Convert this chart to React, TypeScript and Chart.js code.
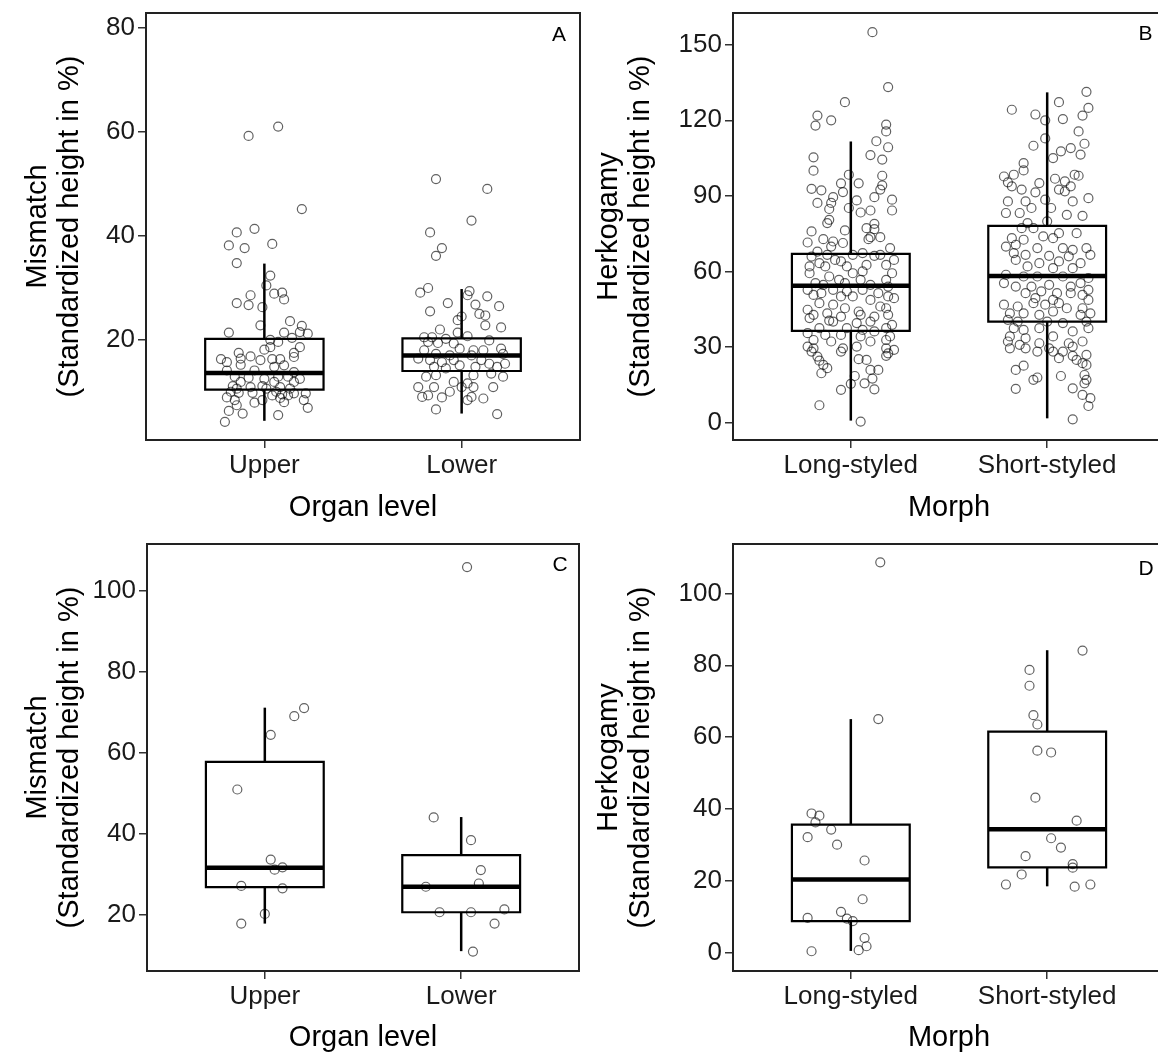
import React, { useEffect, useRef } from 'react';
import { Chart, registerables } from 'chart.js';

Chart.register(...registerables);

// ---------- categories & tick labels ----------
const organCategories = ['Upper', 'Lower'];
const morphCategories = ['Long-styled', 'Short-styled'];
const ticksA = [20, 40, 60, 80];
const ticksB = [0, 30, 60, 90, 120, 150];
const ticksC = [20, 40, 60, 80, 100];
const ticksD = [0, 20, 40, 60, 80, 100];
const rangeA = [0.6, 82.9];
const rangeB = [-6.9, 162.6];
const rangeC = [6.1, 111.5];
const rangeD = [-5.2, 113.8];

// ---------- box statistics: [lower whisker, Q1, median, Q3, upper whisker] ----------
const boxAUpper = [4.3, 10.3, 13.5, 20.1, 34.6];
const boxALower = [5.7, 13.9, 16.9, 20.2, 29.7];
const boxBLong = [0.8, 36.4, 54.3, 67.0, 111.6];
const boxBShort = [1.7, 40.1, 58.2, 78.1, 131.1];
const boxCUpper = [17.8, 26.8, 31.6, 57.7, 71.1];
const boxCLower = [11.0, 20.6, 26.9, 34.7, 44.1];
const boxDLong = [0.4, 8.7, 20.3, 35.6, 65.0];
const boxDShort = [18.4, 23.7, 34.3, 61.5, 84.2];

// ---------- jittered observations: [jitter, value] ----------
const ptsAUpper = [
  [-0.08, 59.2], [0.07, 61.0], [0.19, 45.1], [-0.14, 40.6], [-0.05, 41.3], [-0.18, 38.1], [-0.10, 37.6], [0.04, 38.4],
  [-0.14, 34.7], [0.03, 32.3], [0.01, 30.4], [0.05, 28.8], [0.09, 29.0], [-0.07, 28.5], [-0.14, 27.0], [-0.08, 26.6],
  [0.10, 27.7], [-0.01, 26.2], [-0.02, 22.7], [0.13, 23.5], [0.19, 22.6], [-0.18, 21.3], [0.10, 21.3], [0.18, 21.4],
  [0.22, 21.1], [0.14, 20.3], [0.03, 19.9], [0.07, 19.5], [0.18, 18.5], [0.00, 18.0], [0.03, 18.5], [-0.13, 17.4],
  [-0.07, 16.7], [-0.22, 16.2], [-0.02, 16.0], [0.04, 16.2], [0.08, 16.2], [0.15, 17.4], [0.15, 16.6], [-0.19, 15.6],
  [-0.12, 15.1], [-0.12, 16.3], [-0.19, 14.0], [-0.05, 14.0], [0.05, 14.7], [0.10, 15.0], [0.15, 13.7], [-0.15, 12.8],
  [-0.08, 12.6], [0.00, 12.4], [0.07, 12.8], [0.12, 12.8], [0.18, 12.4], [-0.12, 11.8], [0.05, 11.8], [0.15, 11.8],
  [-0.16, 11.0], [-0.14, 10.5], [-0.07, 10.8], [-0.01, 11.0], [0.01, 10.5], [0.08, 10.8], [0.13, 10.5], [-0.17, 9.9],
  [-0.13, 9.7], [-0.06, 9.7], [0.04, 9.2], [0.09, 9.4], [0.15, 9.6], [-0.19, 8.8], [-0.15, 8.3], [0.08, 8.7],
  [0.10, 7.9], [0.21, 9.6], [0.20, 8.3], [-0.05, 7.8], [-0.14, 7.3], [0.22, 6.8], [-0.18, 6.2], [-0.11, 5.7],
  [0.07, 5.4], [-0.20, 4.1], [-0.01, 8.3], [0.06, 9.9], [0.12, 9.2],
];
const ptsALower = [
  [-0.13, 50.9], [0.13, 49.0], [0.05, 42.9], [-0.16, 40.6], [-0.10, 37.6], [-0.13, 36.1], [-0.17, 29.9], [-0.21, 29.0],
  [0.04, 29.3], [0.03, 28.5], [0.13, 28.3], [-0.07, 27.0], [0.07, 26.7], [0.19, 26.4], [-0.16, 25.4], [0.09, 24.9],
  [0.12, 24.6], [0.00, 24.4], [-0.02, 23.7], [0.12, 22.7], [0.20, 22.3], [-0.11, 21.9], [-0.02, 21.3], [-0.19, 20.4],
  [-0.15, 20.4], [-0.08, 20.1], [0.03, 20.6], [0.14, 19.8], [-0.17, 19.5], [-0.12, 19.3], [-0.04, 19.2], [-0.01, 18.2],
  [0.06, 17.9], [0.11, 17.9], [0.20, 18.2], [-0.19, 17.9], [-0.13, 17.2], [-0.06, 16.9], [0.05, 16.9], [0.21, 17.2],
  [-0.22, 16.3], [-0.16, 16.0], [-0.10, 15.6], [-0.04, 16.0], [0.10, 16.0], [0.14, 15.3], [0.22, 15.3], [-0.14, 14.7],
  [-0.08, 14.4], [-0.01, 15.0], [0.07, 14.7], [0.18, 14.7], [-0.18, 12.8], [-0.13, 13.1], [0.06, 13.1], [0.21, 12.8],
  [-0.04, 11.8], [0.03, 11.5], [-0.22, 10.8], [-0.14, 10.8], [0.00, 10.8], [0.06, 10.8], [0.16, 10.8], [-0.20, 8.9],
  [-0.17, 9.2], [-0.10, 8.8], [0.03, 8.3], [0.05, 8.9], [0.11, 8.6], [-0.13, 6.5], [0.18, 5.6], [-0.06, 9.9],
  [0.15, 13.4],
];
const ptsBLong = [
  [0.11, 155.0], [0.19, 133.2], [-0.03, 127.2], [-0.17, 121.9], [-0.18, 117.9], [-0.10, 120.0], [0.18, 118.3], [0.18, 115.6],
  [0.13, 111.7], [0.19, 109.3], [0.10, 106.2], [0.16, 104.4], [-0.19, 105.3], [-0.19, 100.0], [-0.01, 98.4], [0.16, 98.0],
  [-0.05, 95.0], [0.04, 95.0], [0.16, 94.2], [0.15, 92.5], [-0.20, 92.8], [-0.15, 92.2], [-0.04, 91.5], [0.12, 89.5],
  [0.21, 88.5], [-0.09, 89.5], [0.03, 88.2], [-0.17, 87.2], [-0.10, 87.2], [-0.01, 85.2], [0.21, 84.2], [0.10, 84.2],
  [-0.11, 84.8], [0.05, 83.4], [-0.11, 80.5], [-0.12, 79.2], [0.12, 78.9], [0.08, 77.2], [0.12, 76.8], [-0.03, 76.3],
  [-0.20, 75.9], [0.10, 73.6], [0.15, 73.6], [0.09, 72.8], [-0.22, 71.5], [-0.14, 72.8], [-0.09, 71.9], [-0.04, 71.3],
  [0.20, 69.3], [-0.10, 69.9], [-0.17, 67.9], [-0.20, 65.9], [-0.12, 66.6], [0.01, 66.6], [0.06, 67.3], [0.12, 66.2],
  [0.15, 66.6], [0.22, 64.6], [-0.08, 64.6], [-0.05, 64.0], [-0.16, 63.3], [-0.21, 62.0], [-0.13, 62.0], [-0.02, 62.0],
  [0.08, 62.6], [0.18, 62.6], [0.01, 59.3], [0.06, 60.0], [0.21, 59.3], [-0.21, 59.3], [-0.11, 58.0], [-0.06, 56.7],
  [0.05, 56.7], [0.18, 56.7], [-0.18, 55.4], [-0.14, 54.7], [-0.03, 55.4], [0.10, 54.7], [0.19, 54.0], [-0.22, 52.7],
  [-0.09, 52.7], [-0.02, 52.1], [0.06, 52.7], [0.14, 51.4], [-0.19, 50.7], [-0.15, 51.4], [-0.05, 50.1], [0.01, 50.1],
  [0.10, 48.7], [0.22, 49.4], [0.19, 50.1], [-0.16, 47.4], [-0.09, 46.8], [-0.03, 45.4], [0.04, 44.1], [0.15, 46.1],
  [0.18, 45.4], [-0.22, 44.8], [-0.19, 42.8], [-0.12, 43.4], [-0.05, 42.1], [0.05, 42.8], [0.12, 42.1], [0.19, 42.8],
  [-0.21, 41.5], [-0.11, 40.5], [-0.09, 40.1], [0.03, 39.5], [0.10, 40.1], [0.21, 38.8], [-0.16, 37.5], [-0.02, 37.5],
  [0.06, 36.8], [0.12, 36.2], [0.18, 37.5], [-0.22, 35.5], [-0.13, 34.8], [-0.05, 34.8], [0.05, 34.2], [0.20, 34.2],
  [-0.19, 32.8], [-0.10, 32.2], [0.10, 32.2], [0.18, 32.8], [-0.22, 30.2], [-0.19, 29.5], [-0.04, 29.5], [0.03, 30.2],
  [0.18, 29.5], [0.22, 28.9], [-0.20, 28.2], [-0.05, 28.2], [0.19, 27.5], [-0.17, 26.2], [0.04, 25.2], [-0.16, 24.6],
  [0.08, 24.9], [0.18, 26.5], [-0.14, 22.9], [-0.12, 21.6], [0.10, 20.9], [0.14, 20.9], [-0.15, 19.6], [0.02, 18.5],
  [0.11, 17.5], [0.07, 15.6], [0.00, 15.4], [-0.05, 13.0], [0.12, 13.2], [-0.16, 6.9], [0.05, 0.4],
];
const ptsBShort = [
  [-0.18, 124.2], [-0.06, 122.3], [0.06, 127.2], [-0.01, 120.0], [0.08, 120.5], [0.20, 131.3], [0.21, 124.9], [0.18, 121.9],
  [0.19, 110.7], [0.16, 115.6], [-0.07, 109.9], [-0.01, 112.8], [0.12, 109.0], [0.07, 107.7], [0.03, 105.0], [0.17, 106.4],
  [-0.12, 103.0], [-0.12, 100.1], [-0.22, 97.7], [-0.17, 98.4], [0.14, 98.4], [0.16, 98.0], [0.04, 96.8], [0.09, 95.8],
  [-0.18, 93.8], [-0.20, 95.4], [-0.04, 95.1], [0.12, 93.8], [-0.13, 92.5], [0.06, 92.5], [0.09, 91.8], [-0.06, 91.4],
  [0.21, 89.1], [-0.20, 87.8], [-0.11, 87.8], [-0.01, 88.5], [0.13, 87.8], [-0.08, 85.2], [0.02, 85.2], [-0.21, 83.2],
  [-0.14, 83.2], [0.10, 82.5], [0.18, 82.1], [-0.10, 79.2], [0.00, 79.9], [-0.13, 77.2], [-0.07, 77.2], [0.06, 75.2],
  [0.15, 75.2], [-0.18, 73.2], [-0.12, 72.6], [-0.02, 73.9], [0.03, 73.2], [-0.21, 69.9], [-0.16, 70.6], [-0.05, 69.3],
  [0.08, 69.3], [0.13, 68.6], [0.20, 69.3], [-0.17, 67.3], [-0.11, 66.6], [0.01, 66.2], [0.11, 66.0], [0.22, 66.6],
  [-0.16, 64.6], [-0.04, 63.3], [0.06, 64.0], [0.17, 63.3], [-0.10, 62.0], [0.03, 61.3], [0.13, 61.3], [-0.21, 58.7],
  [-0.12, 58.0], [-0.05, 58.0], [0.08, 58.0], [0.21, 57.4], [-0.22, 55.4], [-0.16, 54.0], [-0.08, 54.0], [0.01, 54.7],
  [0.12, 54.0], [0.17, 55.4], [0.21, 52.7], [-0.11, 51.4], [-0.03, 52.1], [0.05, 51.4], [0.12, 51.4], [0.18, 50.7],
  [-0.06, 49.4], [0.03, 48.7], [0.21, 48.7], [-0.07, 47.4], [-0.22, 46.8], [-0.15, 46.1], [-0.01, 46.8], [0.06, 47.4],
  [0.10, 45.4], [0.18, 45.4], [-0.19, 43.4], [-0.12, 43.4], [-0.04, 42.8], [0.03, 44.1], [0.17, 42.8], [0.22, 43.4],
  [-0.20, 40.8], [-0.15, 40.1], [0.00, 40.1], [0.08, 39.5], [0.20, 40.1], [-0.17, 37.5], [-0.12, 36.8], [-0.04, 37.5],
  [0.13, 36.2], [0.21, 37.5], [-0.19, 34.2], [-0.11, 33.5], [0.03, 34.2], [0.18, 32.2], [-0.20, 32.2], [-0.14, 30.9],
  [-0.04, 31.5], [0.11, 31.5], [-0.19, 29.5], [-0.11, 29.5], [0.01, 29.5], [0.13, 30.2], [-0.05, 28.2], [0.03, 28.2],
  [0.08, 28.2], [0.20, 26.9], [0.13, 26.5], [0.06, 25.6], [0.15, 24.9], [0.18, 23.6], [-0.12, 22.6], [-0.16, 20.9],
  [0.20, 22.9], [0.19, 18.9], [0.07, 18.5], [-0.05, 17.9], [-0.07, 17.0], [0.20, 17.0], [0.19, 15.6], [-0.16, 13.4],
  [0.13, 13.6], [0.18, 11.0], [0.22, 9.7], [0.21, 6.6], [0.13, 1.3],
];
const ptsCUpper = [
  [0.20, 71.0], [0.15, 69.0], [0.03, 64.4], [-0.14, 50.9], [0.03, 33.6], [0.05, 31.1], [0.09, 31.7], [-0.12, 27.1],
  [0.09, 26.5], [0.00, 20.2], [-0.12, 17.8],
];
const ptsCLower = [
  [0.03, 105.8], [-0.14, 44.0], [0.05, 38.4], [0.10, 31.0], [-0.18, 26.9], [0.09, 27.7], [-0.11, 20.6], [0.05, 20.6],
  [0.22, 21.3], [0.17, 17.8], [0.06, 10.9],
];
const ptsDLong = [
  [0.15, 108.7], [0.14, 65.0], [-0.20, 38.7], [-0.16, 38.1], [-0.18, 36.2], [-0.10, 34.2], [-0.22, 32.1], [-0.07, 30.0],
  [0.07, 25.6], [0.06, 14.8], [-0.22, 9.6], [-0.05, 11.3], [-0.02, 9.4], [0.01, 8.7], [0.07, 4.0], [0.08, 1.7],
  [0.04, 0.6], [-0.20, 0.3],
];
const ptsDShort = [
  [0.18, 84.1], [-0.09, 78.7], [-0.09, 74.3], [-0.07, 66.1], [-0.05, 63.5], [-0.05, 56.2], [0.02, 55.7], [-0.06, 43.1],
  [0.15, 36.7], [0.02, 31.8], [0.07, 29.2], [-0.11, 26.8], [0.13, 24.6], [0.13, 23.6], [-0.13, 21.7], [-0.21, 18.9],
  [0.14, 18.3], [0.22, 18.9],
];

const FONT = "'Liberation Sans', Arial, Helvetica, sans-serif";

type PanelSpec = {
  left: number; top: number; width: number; height: number;
  padTop: number; padRight: number; yAxisWidth: number; xAxisHeight: number; titlePad: number;
  range: number[]; ticks: number[]; categories: string[];
  boxes: number[][]; points: number[][][];
  yTitle: string[]; xTitle: string; label: string; labelDx: number; labelDy: number;
};

const panels: PanelSpec[] = [
  {
    left: 0, top: 0, width: 585, height: 525, padTop: 13, padRight: 5, yAxisWidth: 146, xAxisHeight: 85, titlePad: 22,
    range: rangeA, ticks: ticksA, categories: organCategories, boxes: [boxAUpper, boxALower], points: [ptsAUpper, ptsALower],
    yTitle: ['Mismatch', '(Standardized height in %)'], xTitle: 'Organ level', label: 'A', labelDx: 21, labelDy: 22,
  },
  {
    left: 585, top: 0, width: 595, height: 525, padTop: 13, padRight: 15, yAxisWidth: 148, xAxisHeight: 85, titlePad: 8,
    range: rangeB, ticks: ticksB, categories: morphCategories, boxes: [boxBLong, boxBShort], points: [ptsBLong, ptsBShort],
    yTitle: ['Herkogamy', '(Standardized height in %)'], xTitle: 'Morph', label: 'B', labelDx: 19.5, labelDy: 21.5,
  },
  {
    left: 0, top: 530, width: 585, height: 525, padTop: 14, padRight: 6, yAxisWidth: 147, xAxisHeight: 84, titlePad: 22,
    range: rangeC, ticks: ticksC, categories: organCategories, boxes: [boxCUpper, boxCLower], points: [ptsCUpper, ptsCLower],
    yTitle: ['Mismatch', '(Standardized height in %)'], xTitle: 'Organ level', label: 'C', labelDx: 19, labelDy: 21,
  },
  {
    left: 585, top: 530, width: 595, height: 525, padTop: 14, padRight: 15, yAxisWidth: 148, xAxisHeight: 84, titlePad: 8,
    range: rangeD, ticks: ticksD, categories: morphCategories, boxes: [boxDLong, boxDShort], points: [ptsDLong, ptsDShort],
    yTitle: ['Herkogamy', '(Standardized height in %)'], xTitle: 'Morph', label: 'D', labelDx: 19, labelDy: 25.5,
  },
];

const decorPlugin = {
  id: 'panelDecor',
  afterDatasetsDraw(chart: any, _args: any, opts: any) {
    const { ctx, chartArea: a } = chart;
    ctx.save();
    ctx.strokeStyle = '#222';
    ctx.lineWidth = 2;
    ctx.strokeRect(a.left, a.top, a.right - a.left, a.bottom - a.top);
    ctx.font = `21px ${FONT}`;
    ctx.fillStyle = '#000';
    ctx.textAlign = 'center';
    ctx.textBaseline = 'middle';
    ctx.fillText(opts.label, a.right - opts.labelDx, a.top + opts.labelDy);
    ctx.restore();
  },
};

function lineDs(data: { x: number; y: number }[], width: number, cap: string = 'butt') {
  return {
    type: 'line' as const,
    data,
    borderColor: '#000',
    borderWidth: width,
    borderCapStyle: cap,
    borderJoinStyle: 'miter',
    pointRadius: 0,
    pointHoverRadius: 0,
    fill: false,
    tension: 0,
    showLine: true,
    order: 2,
  };
}

function buildDatasets(p: PanelSpec) {
  const ds: any[] = [];
  const hw = 0.3;
  p.boxes.forEach((s, i) => {
    const xc = i + 1;
    const [lo, q1, med, q3, hi] = s;
    ds.push(lineDs([{ x: xc, y: q3 }, { x: xc, y: hi }], 2.5));
    ds.push(lineDs([{ x: xc, y: lo }, { x: xc, y: q1 }], 2.5));
    ds.push(lineDs([
      { x: xc - hw, y: q1 }, { x: xc + hw, y: q1 }, { x: xc + hw, y: q3 }, { x: xc - hw, y: q3 }, { x: xc - hw, y: q1 },
    ], 2.2, 'square'));
    ds.push(lineDs([{ x: xc - hw, y: med }, { x: xc + hw, y: med }], 4.5));
  });
  p.points.forEach((pts, i) => {
    ds.push({
      type: 'scatter' as const,
      data: pts.map(([j, v]) => ({ x: i + 1 + j, y: v })),
      showLine: false,
      pointRadius: 4.5,
      pointBorderWidth: 1.2,
      pointBorderColor: 'rgba(0,0,0,0.62)',
      pointBackgroundColor: 'rgba(0,0,0,0)',
      order: 1,
    });
  });
  return ds;
}

function Panel({ p }: { p: PanelSpec }) {
  const ref = useRef<HTMLCanvasElement | null>(null);
  useEffect(() => {
    if (!ref.current) return;
    const tickFont = { family: FONT, size: 26 };
    const titleFont = { family: FONT, size: 29, lineHeight: 1.1 };
    const chart = new Chart(ref.current, {
      type: 'scatter',
      data: { datasets: buildDatasets(p) },
      plugins: [decorPlugin],
      options: {
        animation: false,
        responsive: false,
        events: [],
        layout: { padding: { top: p.padTop, right: p.padRight, left: 0, bottom: 0 }, autoPadding: false },
        plugins: {
          legend: { display: false },
          tooltip: { enabled: false },
          panelDecor: { label: p.label, labelDx: p.labelDx, labelDy: p.labelDy },
        } as any,
        scales: {
          x: {
            type: 'linear',
            min: 0.4,
            max: 2.6,
            afterBuildTicks: (s: any) => { s.ticks = [{ value: 1 }, { value: 2 }]; },
            afterFit: (s: any) => { s.height = p.xAxisHeight; s.paddingLeft = 0; s.paddingRight = 0; },
            ticks: {
              font: { ...tickFont, lineHeight: 1.15 }, color: '#1a1a1a', padding: 3, autoSkip: false, maxRotation: 0, minRotation: 0,
              callback: (v: any) => p.categories[Math.round(Number(v)) - 1] ?? '',
            },
            grid: { drawOnChartArea: false, drawTicks: true, tickLength: 8, color: '#333', lineWidth: 1.5 },
            border: { display: false },
            title: { display: true, text: p.xTitle, font: titleFont, color: '#000', padding: { top: 0, bottom: 1 } },
          },
          y: {
            type: 'linear',
            min: p.range[0],
            max: p.range[1],
            afterBuildTicks: (s: any) => { s.ticks = p.ticks.map((v) => ({ value: v })); },
            afterFit: (s: any) => { s.width = p.yAxisWidth; s.paddingTop = 0; s.paddingBottom = 0; },
            ticks: { font: tickFont, color: '#1a1a1a', padding: 3, autoSkip: false },
            grid: { drawOnChartArea: false, drawTicks: true, tickLength: 8, color: '#333', lineWidth: 1.5 },
            border: { display: false },
            title: { display: true, text: p.yTitle, font: titleFont, color: '#000', padding: { top: p.titlePad, bottom: 0 } },
          },
        },
      } as any,
    });
    return () => chart.destroy();
  }, [p]);
  return (
    <canvas
      ref={ref}
      width={p.width}
      height={p.height}
      style={{ position: 'absolute', left: p.left, top: p.top, width: p.width, height: p.height }}
    />
  );
}

export default function App() {
  return (
    <div style={{ position: 'absolute', left: 0, top: 0, width: 1158, height: 1055, overflow: 'hidden', background: '#fff' }}>
      {panels.map((p) => (
        <Panel key={p.label} p={p} />
      ))}
    </div>
  );
}
